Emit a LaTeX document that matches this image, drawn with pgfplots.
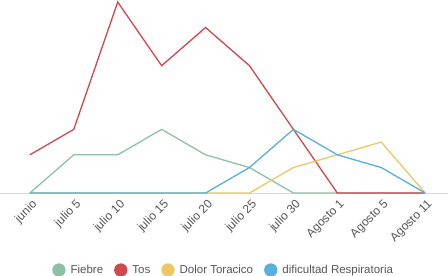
\documentclass[border=0pt]{standalone}
\usepackage{pgfplots}
\pgfplotsset{compat=1.18}
\usepackage{fontspec}
\setmainfont{Liberation Sans}
\definecolor{cfiebre}{HTML}{8CC2A4}
\definecolor{ctos}{HTML}{D2474C}
\definecolor{cdolor}{HTML}{EDC763}
\definecolor{cresp}{HTML}{57B0DD}
\definecolor{ctext}{HTML}{555555}
\begin{document}
\begin{tikzpicture}
\useasboundingbox (0,0) rectangle (448pt,276pt);
\begin{axis}[
  at={(0,83pt)}, anchor=south west,
  scale only axis, width=448pt, height=193pt,
  xmin=-0.68, xmax=9.52, ymin=0, ymax=15.16,
  axis y line=none, axis x line*=bottom,
  x axis line style={draw=black!15, -},
  xtick={0,...,9},
  xticklabels={junio, julio 5, julio 10, julio 15, julio 20, julio 25, julio 30, Agosto 1, Agosto 5, Agosto 11},
  major tick length=0pt,
  x tick label style={rotate=45, anchor=north east, font=\fontsize{12}{14}\selectfont, text=ctext, inner sep=1pt, xshift=-2pt, yshift=-4pt},
  clip=false,
  every axis plot/.append style={line width=1.3pt, mark=none},
  legend columns=4,
  legend style={at={(0.497,0)}, anchor=center, yshift=-77pt, draw=none, fill=none,
    font=\fontsize{11.5}{13}\selectfont, text=ctext,
    nodes={inner sep=0pt},
    /tikz/every odd column/.append style={column sep=5pt},
    /tikz/every even column/.append style={column sep=11pt}},
]
\addplot[color=cfiebre, legend image code/.code={\fill[cfiebre] (6pt,0pt) circle (6pt);}] coordinates {(0,0) (1,3) (2,3) (3,5) (4,3) (5,2) (6,0) (7,0) (8,0) (9,0)};
\addlegendentry{Fiebre}
\addplot[color=ctos, legend image code/.code={\fill[ctos] (6pt,0pt) circle (6pt);}] coordinates {(0,3) (1,5) (2,15) (3,10) (4,13) (5,10) (6,5) (7,0) (8,0) (9,0)};
\addlegendentry{Tos}
\addplot[color=cdolor, legend image code/.code={\fill[cdolor] (6pt,0pt) circle (6pt);}] coordinates {(0,0) (1,0) (2,0) (3,0) (4,0) (5,0) (6,2) (7,3) (8,4) (9,0)};
\addlegendentry{Dolor Toracico}
\addplot[color=cresp, legend image code/.code={\fill[cresp] (6pt,0pt) circle (6pt);}] coordinates {(0,0) (1,0) (2,0) (3,0) (4,0) (5,2) (6,5) (7,3) (8,2) (9,0)};
\addlegendentry{dificultad Respiratoria}
\end{axis}
\end{tikzpicture}
\end{document}
